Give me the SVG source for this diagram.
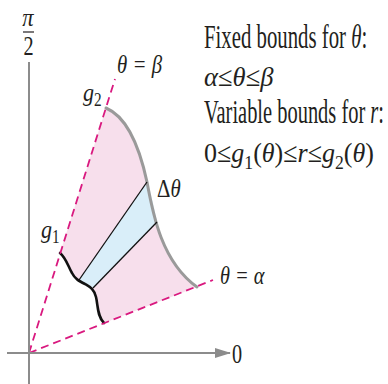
<svg xmlns="http://www.w3.org/2000/svg" width="388" height="384" viewBox="0 0 388 384">
<style>
text{font-family:"Liberation Serif","Times New Roman",serif;fill:#231f20}
.it{font-style:italic}
.up{font-style:normal}
.ray{fill:none;stroke:#d9197f;stroke-width:1.8;stroke-dasharray:8 5}
.axis{fill:none;stroke:#8c8c8c;stroke-width:2}
</style>
<defs>
<marker id="arr" viewBox="0 0 16 10" refX="15" refY="5" markerWidth="16" markerHeight="10" markerUnits="userSpaceOnUse" orient="auto">
<path d="M0,0 L16,5 L0,10 Z" fill="#8c8c8c"/>
</marker>
</defs>
<rect width="388" height="384" fill="#ffffff"/>
<g id="region">
<path d="M106,108 C125,116 138,140 147,182 C153,215 162,262 197,287 L104,323 C97,316 98,305 96,297 C94,289 90,287 85,284 C79,281 75,279 72,273 C68,266 66,258 60,253 Z" fill="#f7dfec"/>
<path d="M79,280 L147,182 Q153,200 157,222 L93,288 C90,286 88,285 85,284 C82,283 80,281 79,280 Z" fill="#d9eef9"/>
<path d="M106,108 C125,116 138,140 147,182 C153,215 162,262 197,287" fill="none" stroke="#9a9a9a" stroke-width="3" stroke-linecap="round"/>
<path d="M104,323 C97,316 98,305 96,297 C94,289 90,287 85,284 C79,281 75,279 72,273 C68,266 66,258 60,253" fill="none" stroke="#111" stroke-width="2.6" stroke-linecap="round"/>
</g>
<g id="connectors">
<line x1="79" y1="280" x2="147" y2="182" stroke="#111" stroke-width="1.3"/>
<line x1="93" y1="288" x2="157" y2="222" stroke="#111" stroke-width="1.3"/>
<line class="ray" x1="29" y1="353" x2="115" y2="79"/>
<line class="ray" x1="29" y1="353" x2="213" y2="280"/>
<line class="axis" x1="7" y1="353" x2="230" y2="353" marker-end="url(#arr)"/>
<line class="axis" x1="29" y1="62" x2="29" y2="384"/>
</g>
<g id="axis-labels">
<text transform="translate(28,26) scale(0.9,1)" font-size="25" text-anchor="middle" class="it">π</text>
<line x1="23" y1="32" x2="34" y2="32" stroke="#231f20" stroke-width="1.2"/>
<text transform="translate(28.5,55) scale(0.75,1)" font-size="27" text-anchor="middle">2</text>
<text transform="translate(232,363) scale(0.75,1)" font-size="27">0</text>
</g>
<g id="labels">
<text transform="translate(117,73) scale(0.8,1)" font-size="26" class="it">θ = β</text>
<text transform="translate(83,101) scale(0.85,1)" font-size="26" class="it">g<tspan class="up" font-size="18" dy="5">2</tspan></text>
<text transform="translate(157,197) scale(0.8,1)" font-size="26">Δ<tspan class="it">θ</tspan></text>
<text transform="translate(41,238) scale(0.85,1)" font-size="26" class="it">g<tspan class="up" font-size="18" dy="5">1</tspan></text>
<text transform="translate(220,284) scale(0.78,1)" font-size="26" class="it">θ = α</text>
</g>
<g id="bounds-text">
<text transform="translate(204,48) scale(0.63,1)" font-size="33">Fixed bounds for <tspan class="it">θ</tspan>:</text>
<text transform="translate(204,86) scale(0.95,1)" font-size="28" class="it">α<tspan class="up">≤</tspan>θ<tspan class="up">≤</tspan>β</text>
<text transform="translate(204,123) scale(0.62,1)" font-size="33">Variable bounds for <tspan class="it">r</tspan>:</text>
<text transform="translate(204,162) scale(0.93,1)" font-size="28">0≤<tspan class="it">g</tspan><tspan font-size="19" dy="7">1</tspan><tspan dy="-7">(</tspan><tspan class="it">θ</tspan>)≤<tspan class="it">r</tspan>≤<tspan class="it">g</tspan><tspan font-size="19" dy="7">2</tspan><tspan dy="-7">(</tspan><tspan class="it">θ</tspan>)</text>
</g>
</svg>
